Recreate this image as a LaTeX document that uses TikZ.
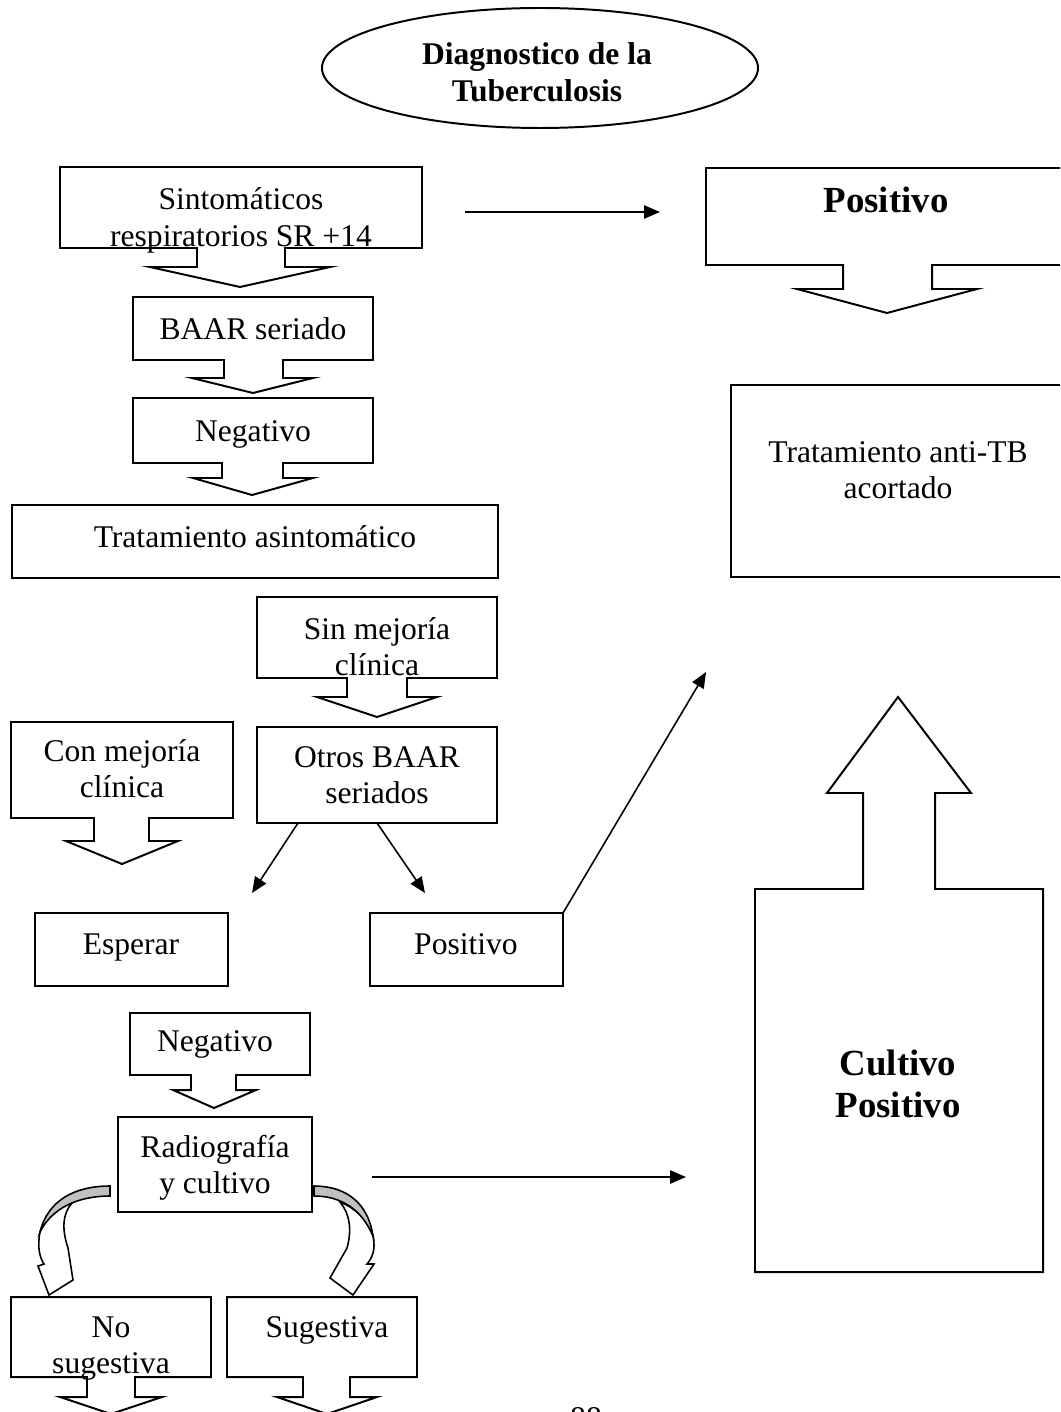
\documentclass[tikz,border=0pt]{standalone}
\usepackage{fontspec}
\setmainfont{Liberation Serif}
\usetikzlibrary{arrows.meta}
\definecolor{foldgray}{RGB}{192,192,192}
\newcommand{\twolines}[2]{\begin{tabular}[t]{@{}c@{}}#1\\#2\end{tabular}}

\begin{document}
\begin{tikzpicture}[x=0.38pt,y=-0.38pt]

		\tikzset{outline/.style = {draw,line width=0.75pt}}
		\tikzset{ribbon/.style = {draw,line width=0.6pt,fill=white}}
		\tikzset{txt/.style = {anchor=base,inner sep=0pt,font=\fontsize{12}{13.7}\selectfont}}
		\tikzset{boldtxt/.style = {txt,font=\fontsize{12}{13.7}\selectfont\bfseries}}
		\tikzset{bigtxt/.style = {txt,font=\fontsize{14}{16}\selectfont\bfseries}}
		\tikzset{edge/.style = {-{Triangle[length=6pt,width=5pt]},line width=0.6pt}}
		\useasboundingbox (0,0) rectangle (1060,1412);
		\clip (0,0) rectangle (1060,1412);
		% shapes
		\draw[outline] (540,68) ellipse [x radius=218, y radius=60];
		\draw[outline] (60,167) -- (422,167) -- (422,248) -- (285,248) -- (285,267) -- (330,267) -- (240,287) -- (150,267) -- (197,267) -- (197,248) -- (60,248) -- cycle;
		\draw[outline] (706,168) -- (1075,168) -- (1075,265) -- (932,265) -- (932,289) -- (977,289) -- (887,313) -- (797,289) -- (843,289) -- (843,265) -- (706,265) -- cycle;
		\draw[outline] (133,297) -- (373,297) -- (373,360) -- (283,360) -- (283,378) -- (313,378) -- (253,393) -- (192,378) -- (224,378) -- (224,360) -- (133,360) -- cycle;
		\draw[outline] (133,398) -- (373,398) -- (373,463) -- (283,463) -- (283,478) -- (313,478) -- (252,495) -- (193,478) -- (222,478) -- (222,463) -- (133,463) -- cycle;
		\draw[outline] (12,505) rectangle (498,578);
		\draw[outline] (731,385) rectangle (1075,577);
		\draw[outline] (257,597) -- (497,597) -- (497,678) -- (407,678) -- (407,697) -- (437,697) -- (377,717) -- (317,697) -- (347,697) -- (347,678) -- (257,678) -- cycle;
		\draw[outline] (11,722) -- (233,722) -- (233,818) -- (149,818) -- (149,841) -- (178,841) -- (122,864) -- (66,841) -- (94,841) -- (94,818) -- (11,818) -- cycle;
		\draw[outline] (257,727) rectangle (497,823);
		\draw[outline] (35,913) rectangle (228,986);
		\draw[outline] (370,913) rectangle (563,986);
		\draw[outline] (755,1272) -- (1043,1272) -- (1043,889) -- (935,889) -- (935,793) -- (971,793) -- (898,697) -- (827,793) -- (863,793) -- (863,889) -- (755,889) -- cycle;
		\draw[outline] (130,1013) -- (310,1013) -- (310,1075) -- (236,1075) -- (236,1090) -- (256,1090) -- (214,1108) -- (173,1090) -- (191,1090) -- (191,1075) -- (130,1075) -- cycle;
		\draw[outline] (118,1117) rectangle (312,1212);
		\draw[outline] (11,1297) -- (211,1297) -- (211,1377) -- (135,1377) -- (135,1397) -- (162,1397) -- (111,1414) -- (60,1397) -- (87,1397) -- (87,1377) -- (11,1377) -- cycle;
		\draw[outline] (227,1297) -- (417,1297) -- (417,1377) -- (350,1377) -- (350,1397) -- (377,1397) -- (327,1414) -- (277,1397) -- (303,1397) -- (303,1377) -- (227,1377) -- cycle;
		% curved arrows
		\draw[ribbon] (40,1232) .. controls (37,1248) and (40,1258) .. (44,1264) -- (38,1266) -- (49,1295) -- (73,1280) -- (68,1248) .. controls (62,1230) and (62,1214) .. (72,1203) .. controls (56,1208) and (45,1218) .. (40,1232) -- cycle;
		\draw[ribbon,fill=foldgray] (110,1186) .. controls (75,1186) and (48,1200) .. (40,1232) .. controls (52,1208) and (78,1196) .. (110,1196) -- cycle;
		\draw[ribbon] (373,1236) .. controls (376,1250) and (372,1258) .. (367,1264) -- (374,1264) -- (353,1295) -- (330,1278) -- (347,1248) .. controls (352,1230) and (350,1214) .. (340,1202) .. controls (355,1208) and (366,1218) .. (373,1236) -- cycle;
		\draw[ribbon,fill=foldgray] (314,1186) .. controls (345,1186) and (368,1202) .. (373,1236) .. controls (362,1210) and (342,1196) .. (314,1196) -- cycle;
		% labels
		\node[boldtxt] (title) at (537,65) {\twolines{Diagnostico de la}{Tuberculosis}};
		\node[txt] (sint) at (241,210) {\twolines{Sintomáticos}{respiratorios SR +14}};
		\node[bigtxt] (pos1) at (886,213) {Positivo};
		\node[txt] (baar) at (253,339) {BAAR seriado};
		\node[txt] (neg1) at (253,441) {Negativo};
		\node[txt] (tasin) at (255,547) {Tratamiento asintomático};
		\node[txt] (ttb) at (898,462) {\twolines{Tratamiento anti-TB}{acortado}};
		\node[txt] (sinmej) at (377,639) {\twolines{Sin mejoría}{clínica}};
		\node[txt] (conmej) at (122,761) {\twolines{Con mejoría}{clínica}};
		\node[txt] (otros) at (377,767) {\twolines{Otros BAAR}{seriados}};
		\node[txt] (esperar) at (131,954) {Esperar};
		\node[txt] (pos2) at (466,954) {Positivo};
		\node[txt] (neg2) at (215,1051) {Negativo};
		\node[txt] (radio) at (215,1157) {\twolines{Radiografía}{y cultivo}};
		\node[bigtxt] (cult) at (898,1075) {\twolines{Cultivo}{Positivo}};
		\node[txt] (nosug) at (111,1337) {\twolines{No}{sugestiva}};
		\node[txt] (sug) at (327,1337) {Sugestiva};
		\node[txt] (page) at (586,1428) {88};
		%edges
		\coordinate (a1) at (465,212);
		\coordinate (a2) at (660,212);
		\coordinate (b1) at (298,823);
		\coordinate (b2) at (252,893);
		\coordinate (c1) at (377,823);
		\coordinate (c2) at (425,893);
		\coordinate (d1) at (563,913);
		\coordinate (d2) at (706,672);
		\coordinate (e1) at (372,1177);
		\coordinate (e2) at (686,1177);
		\draw[edge] (a1) -- (a2);
		\draw[edge] (b1) -- (b2);
		\draw[edge] (c1) -- (c2);
		\draw[edge] (d1) -- (d2);
		\draw[edge] (e1) -- (e2);
		\end{tikzpicture}
\end{document}
